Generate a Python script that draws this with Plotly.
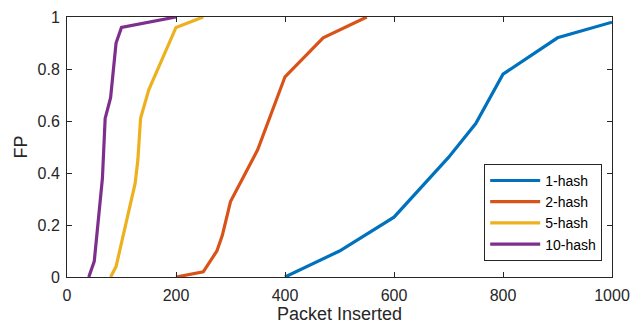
import plotly.graph_objects as go

x_1hash = [400, 500, 600, 700, 750, 800, 900, 1000]
fp_1hash = [0, 0.10, 0.23, 0.46, 0.59, 0.78, 0.92, 0.98]

x_2hash = [200, 250, 275, 285, 300, 350, 400, 470, 550]
fp_2hash = [0, 0.02, 0.10, 0.16, 0.29, 0.49, 0.77, 0.92, 1.0]

x_5hash = [80, 90, 125, 130, 135, 150, 200, 250]
fp_5hash = [0, 0.04, 0.36, 0.45, 0.61, 0.72, 0.96, 1.0]

x_10hash = [40, 50, 65, 70, 80, 90, 100, 200]
fp_10hash = [0, 0.06, 0.38, 0.61, 0.69, 0.90, 0.96, 1.0]

series = [
    ("1-hash", x_1hash, fp_1hash, "#0072BD"),
    ("2-hash", x_2hash, fp_2hash, "#D95319"),
    ("5-hash", x_5hash, fp_5hash, "#EDB120"),
    ("10-hash", x_10hash, fp_10hash, "#7E2F8E"),
]

x_ticks = [0, 200, 400, 600, 800, 1000]
y_ticks = [0, 0.2, 0.4, 0.6, 0.8, 1]

fig = go.Figure()
for name, xs, ys, color in series:
    fig.add_trace(go.Scatter(x=xs, y=ys, mode="lines", name=name,
                             line=dict(color=color, width=3.2)))

axis_common = dict(
    showgrid=False, zeroline=False, showline=True, linecolor="#262626",
    linewidth=1, mirror="allticks", ticks="inside", ticklen=5,
    tickcolor="#262626", tickfont=dict(size=16, color="#262626"),
    automargin=False,
)

fig.update_layout(
    width=644, height=324,
    margin=dict(l=59, r=40, t=9, b=55, autoexpand=False),
    paper_bgcolor="white", plot_bgcolor="white",
    font=dict(family="Liberation Sans, Arial, sans-serif", color="#262626"),
    xaxis=dict(range=[0, 1000], tickvals=x_ticks, ticklabelstandoff=4,
               title=dict(text="Packet Inserted", font=dict(size=18), standoff=0),
               **axis_common),
    yaxis=dict(range=[0, 1], tickvals=y_ticks, ticklabelstandoff=3,
               title=dict(text="FP", font=dict(size=18), standoff=5),
               **axis_common),
    legend=dict(x=0.982, y=0.062, xanchor="right", yanchor="bottom",
                bgcolor="white", bordercolor="#262626", borderwidth=1,
                font=dict(size=14, color="black"), itemwidth=50,
                tracegroupgap=0),
    showlegend=True,
)

fig.write_html("out.html")
